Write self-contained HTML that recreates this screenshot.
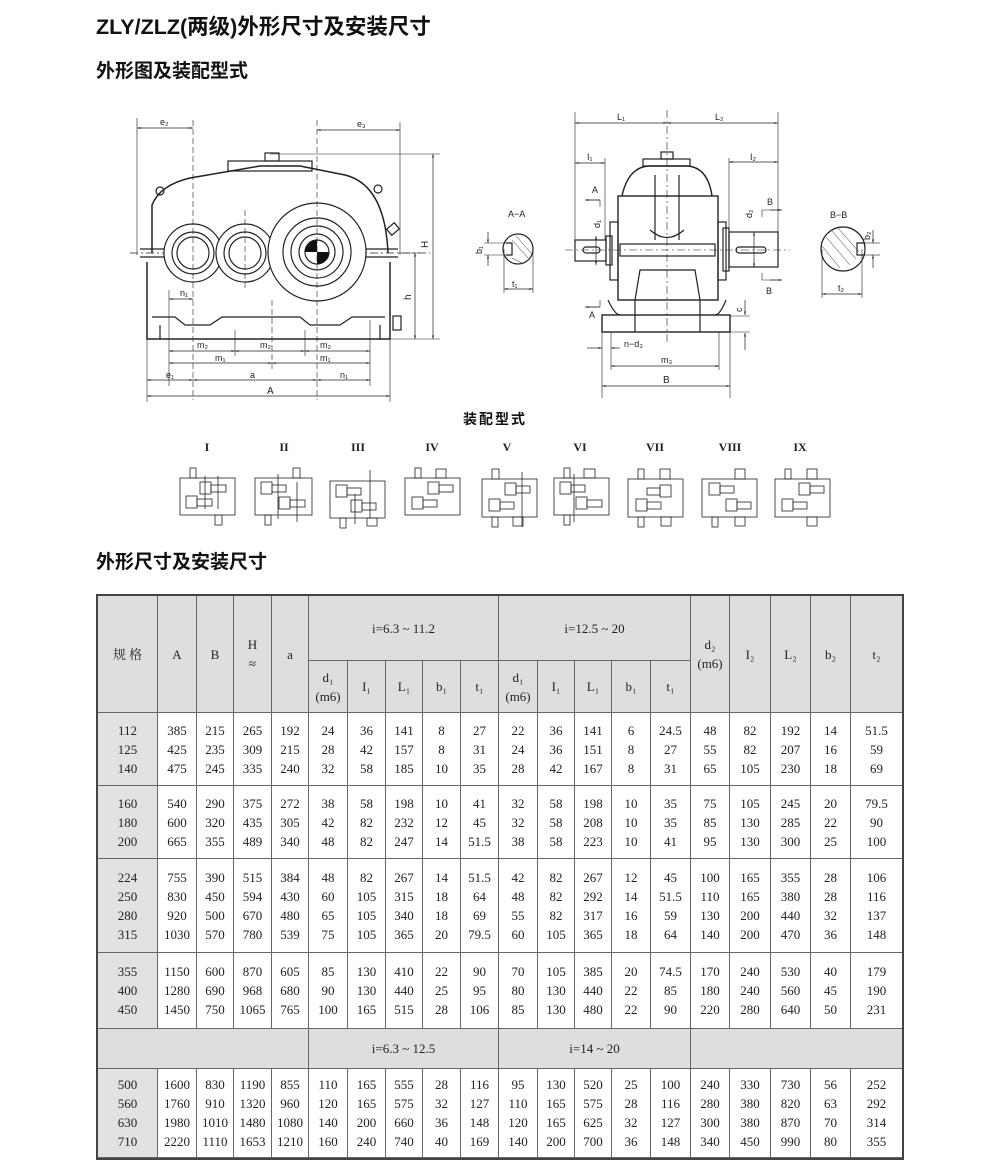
<!DOCTYPE html>
<html><head><meta charset="utf-8">
<style>
body{margin:0;background:#fff;}
#pg{position:relative;width:1000px;height:1175px;overflow:hidden;background:#fff;font-family:"Liberation Sans","Noto Sans CJK SC",sans-serif;}
.t{position:absolute;font-weight:bold;color:#111;white-space:nowrap;}
table{position:absolute;left:97px;top:595px;border-collapse:collapse;table-layout:fixed;font-family:"Liberation Serif","Noto Serif CJK SC",serif;font-size:13px;color:#222;}
td{border:1px solid #666;text-align:center;vertical-align:middle;padding:0;line-height:19px;}
.h{background:#dedede;}
.g{background:#e2e2e2;}
</style></head><body><div id="pg">
<div class="t" style="left:96px;top:10px;font-size:21.5px;">ZLY/ZLZ(两级)外形尺寸及安装尺寸</div>
<div class="t" style="left:96px;top:56px;font-size:19px;">外形图及装配型式</div>
<div class="t" style="left:96px;top:547px;font-size:19px;">外形尺寸及安装尺寸</div>
<div class="t" style="left:463px;top:409px;font-size:14px;letter-spacing:2px;">装配型式</div>

<svg width="1000" height="540" style="position:absolute;left:0;top:0" font-family="Liberation Sans,sans-serif" font-size="9" fill="none" stroke="#222" stroke-width="1.2">
<defs><marker id="ar" viewBox="0 0 10 10" refX="10" refY="5" markerWidth="6" markerHeight="5" orient="auto-start-reverse"><path d="M0,2L10,5L0,8z" fill="#333" stroke="none"/></marker></defs>
<!-- front view -->
<g>
<path d="M152,253 L152,205 Q160,185 190,178 L260,166 L300,166 L345,175 Q385,185 388,253" stroke-width="1.5"/>
<rect x="228" y="161" width="84" height="10"/>
<rect x="265" y="153" width="14" height="8"/>
<line x1="140" y1="249" x2="398" y2="249"/><line x1="140" y1="257" x2="398" y2="257"/>
<line x1="130" y1="253" x2="430" y2="253" stroke-dasharray="8,3,2,3" stroke-width="0.7"/>
<path d="M147,262 L147,339 L390,339 L390,262" stroke-width="1.5"/>
<path d="M152,317 L175,317 L185,325 L210,325 L222,317 L300,317 L310,325 L340,325 L352,317 L385,317"/>
<path d="M160,325 L160,339 M380,325 L380,339"/>
<circle cx="193" cy="253" r="29" fill="#fff"/><circle cx="193" cy="253" r="21"/><circle cx="193" cy="253" r="16"/>
<circle cx="245" cy="253" r="29" fill="#fff"/><circle cx="245" cy="253" r="21"/><circle cx="245" cy="253" r="16"/>
<circle cx="317" cy="252" r="49" fill="#fff"/><circle cx="317" cy="252" r="34"/><circle cx="317" cy="252" r="26"/><circle cx="317" cy="252" r="18"/>
<circle cx="317" cy="252" r="12" fill="#fff"/>
<path d="M317,252 L317,240 A12,12 0 0 0 305,252 Z M317,252 L317,264 A12,12 0 0 0 329,252 Z" fill="#111" stroke="none"/>
<circle cx="160" cy="191" r="4"/><circle cx="378" cy="189" r="4"/>
<rect x="388" y="225" width="10" height="8" transform="rotate(-40 393 229)"/>
<rect x="393" y="316" width="8" height="14"/>
<g stroke-dasharray="6,3" stroke-width="0.6"><line x1="193" y1="120" x2="193" y2="400"/><line x1="245" y1="210" x2="245" y2="290"/><line x1="317" y1="120" x2="317" y2="400"/><line x1="272" y1="300" x2="272" y2="370"/></g>
<g stroke-width="0.6">
<line x1="137" y1="118" x2="137" y2="255"/><line x1="400" y1="122" x2="400" y2="255"/>
<line x1="147" y1="339" x2="147" y2="402"/><line x1="390" y1="339" x2="390" y2="402"/>
<line x1="169" y1="290" x2="169" y2="386"/><line x1="370" y1="320" x2="370" y2="386"/>
<line x1="235" y1="330" x2="235" y2="356"/><line x1="305" y1="330" x2="305" y2="356"/>
<line x1="270" y1="154" x2="440" y2="154"/><line x1="390" y1="339" x2="440" y2="339"/><line x1="398" y1="253" x2="420" y2="253"/>
</g>
<g stroke-width="0.7" marker-start="url(#ar)" marker-end="url(#ar)">
<line x1="137" y1="128" x2="193" y2="128"/><line x1="317" y1="130" x2="400" y2="130"/>
<line x1="433" y1="154" x2="433" y2="339"/><line x1="415" y1="253" x2="415" y2="339"/>
<line x1="169" y1="299" x2="193" y2="299"/>
<line x1="169" y1="351" x2="235" y2="351"/><line x1="235" y1="351" x2="305" y2="351"/><line x1="305" y1="351" x2="370" y2="351"/>
<line x1="169" y1="363" x2="272" y2="363"/><line x1="272" y1="363" x2="370" y2="363"/>
<line x1="147" y1="380" x2="193" y2="380"/><line x1="193" y1="380" x2="317" y2="380"/><line x1="317" y1="380" x2="370" y2="380"/>
<line x1="147" y1="396" x2="390" y2="396"/>
</g>
<g fill="#222" stroke="none">
<text x="160" y="125">e₂</text><text x="357" y="127">e₃</text>
<text x="180" y="296">n₁</text>
<text x="197" y="348">m₂</text><text x="260" y="348">m₂</text><text x="320" y="348">m₂</text>
<text x="215" y="361">m₁</text><text x="320" y="361">m₁</text>
<text x="166" y="378">e₁</text><text x="250" y="378">a</text><text x="340" y="378">n₁</text>
<text x="267" y="394" font-size="10">A</text>
<text x="428" y="248" transform="rotate(-90 428 248)" font-size="10">H</text>
<text x="411" y="300" transform="rotate(-90 411 300)" font-size="10">h</text>
</g>
</g>
<!-- side view -->
<g>
<line x1="667" y1="110" x2="667" y2="345" stroke-dasharray="8,3,2,3" stroke-width="0.6"/>
<line x1="565" y1="250" x2="790" y2="250" stroke-dasharray="8,3,2,3" stroke-width="0.6"/>
<rect x="643" y="159" width="47" height="7"/><rect x="661" y="152" width="12" height="7"/>
<path d="M622,196 Q628,168 648,166 L688,166 Q708,168 712,196" stroke-width="1.4"/>
<rect x="618" y="196" width="100" height="104" stroke-width="1.4"/>
<rect x="610" y="222" width="8" height="58"/><rect x="718" y="222" width="8" height="58"/>
<path d="M655,175 L655,240 M679,175 L679,240 M650,230 Q667,245 684,230"/>
<rect x="620" y="244" width="95" height="12"/>
<rect x="575" y="240" width="31" height="21"/><rect x="606" y="236" width="6" height="29"/>
<rect x="583" y="247" width="17" height="6" rx="3"/>
<rect x="729" y="232" width="49" height="35"/><rect x="723" y="228" width="6" height="43"/>
<rect x="736" y="247" width="30" height="6" rx="3"/>
<path d="M635,300 L640,270 L695,270 L700,300 L700,332 M635,300 L635,332"/>
<path d="M608,300 Q615,315 620,315 M726,300 Q720,315 715,315"/>
<rect x="602" y="315" width="128" height="17" stroke-width="1.4"/>
<g stroke-width="0.6">
<line x1="575" y1="112" x2="575" y2="240"/><line x1="778" y1="112" x2="778" y2="232"/><line x1="729" y1="158" x2="729" y2="232"/><line x1="605" y1="158" x2="605" y2="240"/>
<line x1="602" y1="332" x2="602" y2="398"/><line x1="730" y1="332" x2="730" y2="398"/>
<line x1="611" y1="332" x2="611" y2="370"/><line x1="719" y1="332" x2="719" y2="370"/>
<line x1="730" y1="316" x2="750" y2="316"/><line x1="730" y1="332" x2="750" y2="332"/>
<path d="M586,200 L600,200 L600,207 M586,307 L600,307 L600,300 M762,217 L762,210 L780,210 M762,273 L762,280 L780,280"/>
</g>
<g stroke-width="0.7" marker-start="url(#ar)" marker-end="url(#ar)">
<line x1="575" y1="123" x2="667" y2="123"/><line x1="667" y1="123" x2="778" y2="123"/>
<line x1="575" y1="163" x2="605" y2="163"/><line x1="729" y1="162" x2="778" y2="162"/>
<line x1="611" y1="366" x2="719" y2="366"/><line x1="602" y1="386" x2="730" y2="386"/>
<line x1="596" y1="236" x2="596" y2="265"/><line x1="754" y1="232" x2="754" y2="267"/>
</g>
<g stroke-width="0.7" marker-end="url(#ar)"><line x1="600" y1="200" x2="585" y2="200"/><line x1="600" y1="307" x2="585" y2="307"/><line x1="770" y1="210" x2="782" y2="210"/><line x1="770" y1="280" x2="782" y2="280"/><line x1="745" y1="300" x2="745" y2="315"/><line x1="745" y1="350" x2="745" y2="333"/><line x1="587" y1="348" x2="602" y2="348"/><line x1="620" y1="348" x2="611" y2="348"/></g>
<g fill="#222" stroke="none">
<text x="617" y="120">L₁</text><text x="715" y="120">L₂</text><text x="587" y="160">I₁</text><text x="750" y="160">I₂</text>
<text x="592" y="193">A</text><text x="589" y="318">A</text><text x="767" y="205">B</text><text x="766" y="294">B</text>
<text x="600" y="228" transform="rotate(-90 600 228)">d₁</text><text x="752" y="218" transform="rotate(-90 752 218)">d₂</text>
<text x="742" y="312" transform="rotate(-90 742 312)">c</text>
<text x="624" y="347">n−d₃</text><text x="661" y="363">m₃</text><text x="663" y="383" font-size="10">B</text>
</g>
<!-- A-A -->
<circle cx="518" cy="249" r="15"/>
<path d="M506,243 L512,243 L512,255 L506,255"/>
<g stroke-width="0.5"><line x1="512" y1="240" x2="528" y2="258"/><line x1="516" y1="236" x2="532" y2="254"/><line x1="512" y1="258" x2="522" y2="263"/></g>
<g stroke-width="0.6"><line x1="504" y1="249" x2="504" y2="293"/><line x1="533" y1="249" x2="533" y2="293"/><line x1="484" y1="243" x2="506" y2="243"/><line x1="484" y1="255" x2="506" y2="255"/></g>
<line x1="504" y1="289" x2="533" y2="289" stroke-width="0.7" marker-start="url(#ar)" marker-end="url(#ar)"/>
<line x1="488" y1="232" x2="488" y2="243" stroke-width="0.7" marker-end="url(#ar)"/><line x1="488" y1="266" x2="488" y2="255" stroke-width="0.7" marker-end="url(#ar)"/>
<text x="508" y="217" fill="#222" stroke="none">A−A</text><text x="512" y="287" fill="#222" stroke="none">t₁</text><text x="482" y="254" fill="#222" stroke="none" transform="rotate(-90 482 254)">b₁</text>
<!-- B-B -->
<circle cx="843" cy="249" r="22"/>
<path d="M865,243 L857,243 L857,255 L865,255"/>
<g stroke-width="0.5"><line x1="826" y1="237" x2="850" y2="265"/><line x1="832" y1="231" x2="856" y2="259"/><line x1="838" y1="228" x2="859" y2="252"/><line x1="822" y1="246" x2="840" y2="268"/></g>
<g stroke-width="0.6"><line x1="822" y1="249" x2="822" y2="298"/><line x1="862" y1="249" x2="862" y2="298"/><line x1="865" y1="243" x2="880" y2="243"/><line x1="865" y1="255" x2="880" y2="255"/></g>
<line x1="822" y1="294" x2="862" y2="294" stroke-width="0.7" marker-start="url(#ar)" marker-end="url(#ar)"/>
<line x1="873" y1="230" x2="873" y2="243" stroke-width="0.7" marker-end="url(#ar)"/><line x1="873" y1="268" x2="873" y2="255" stroke-width="0.7" marker-end="url(#ar)"/>
<text x="830" y="218" fill="#222" stroke="none">B−B</text><text x="838" y="291" fill="#222" stroke="none">t₂</text><text x="870" y="240" fill="#222" stroke="none" transform="rotate(-90 870 240)">b₂</text>
</g>
<!-- assembly types -->
<g font-family="Liberation Serif,serif" font-size="12" font-weight="bold" fill="#222" stroke="none" text-anchor="middle">
<text x="207" y="451">I</text><text x="284" y="451">II</text><text x="358" y="451">III</text><text x="432" y="451">IV</text><text x="507" y="451">V</text><text x="580" y="451">VI</text><text x="655" y="451">VII</text><text x="730" y="451">VIII</text><text x="800" y="451">IX</text>
</g>
<g stroke-width="0.8">
<g transform="translate(180,464)"><rect x="0" y="14" width="55" height="37"/><rect x="10" y="4" width="6" height="10"/><rect x="20" y="18" width="11" height="12"/><rect x="31" y="21" width="15" height="7"/><rect x="6" y="32" width="11" height="12"/><rect x="17" y="35" width="15" height="7"/><rect x="35" y="51" width="7" height="10"/><line x1="25" y1="12" x2="25" y2="45"/><line x1="38" y1="12" x2="38" y2="45"/></g>
<g transform="translate(255,464)"><rect x="0" y="14" width="57" height="37"/><rect x="38" y="4" width="7" height="10"/><rect x="6" y="18" width="11" height="12"/><rect x="17" y="21" width="14" height="7"/><rect x="24" y="33" width="11" height="12"/><rect x="35" y="36" width="15" height="7"/><rect x="10" y="51" width="6" height="10"/><line x1="23" y1="10" x2="23" y2="55"/><line x1="42" y1="18" x2="42" y2="58"/></g>
<g transform="translate(330,464)"><rect x="0" y="17" width="55" height="37"/><rect x="6" y="21" width="11" height="12"/><rect x="17" y="24" width="14" height="7"/><rect x="21" y="36" width="11" height="12"/><rect x="32" y="39" width="14" height="7"/><rect x="10" y="54" width="6" height="10"/><rect x="37" y="54" width="10" height="8"/><line x1="40" y1="6" x2="40" y2="54"/><line x1="25" y1="30" x2="25" y2="60"/></g>
<g transform="translate(405,464)"><rect x="0" y="14" width="55" height="37"/><rect x="10" y="4" width="6" height="10"/><rect x="31" y="5" width="10" height="9"/><rect x="23" y="18" width="11" height="12"/><rect x="34" y="21" width="14" height="7"/><rect x="7" y="33" width="11" height="12"/><rect x="18" y="36" width="14" height="7"/></g>
<g transform="translate(482,464)"><rect x="0" y="15" width="55" height="38"/><rect x="10" y="5" width="7" height="10"/><rect x="23" y="19" width="11" height="12"/><rect x="34" y="22" width="14" height="7"/><rect x="7" y="35" width="11" height="12"/><rect x="18" y="38" width="14" height="7"/><rect x="10" y="53" width="6" height="10"/><rect x="31" y="53" width="10" height="9"/><line x1="40" y1="8" x2="40" y2="63"/></g>
<g transform="translate(554,464)"><rect x="0" y="14" width="55" height="37"/><rect x="10" y="4" width="6" height="10"/><rect x="30" y="5" width="11" height="9"/><rect x="6" y="18" width="11" height="12"/><rect x="17" y="21" width="14" height="7"/><rect x="22" y="33" width="11" height="12"/><rect x="33" y="36" width="15" height="7"/><rect x="10" y="51" width="6" height="10"/><line x1="20" y1="10" x2="20" y2="58"/></g>
<g transform="translate(628,464)"><rect x="0" y="15" width="55" height="38"/><rect x="10" y="5" width="6" height="10"/><rect x="32" y="5" width="10" height="10"/><rect x="32" y="21" width="11" height="12"/><rect x="19" y="24" width="13" height="7"/><rect x="8" y="35" width="11" height="12"/><rect x="19" y="38" width="14" height="7"/><rect x="10" y="53" width="6" height="10"/><rect x="33" y="53" width="10" height="9"/></g>
<g transform="translate(702,464)"><rect x="0" y="15" width="55" height="38"/><rect x="33" y="5" width="10" height="10"/><rect x="7" y="19" width="11" height="12"/><rect x="18" y="22" width="14" height="7"/><rect x="24" y="35" width="11" height="12"/><rect x="35" y="38" width="14" height="7"/><rect x="10" y="53" width="6" height="10"/><rect x="33" y="53" width="10" height="9"/></g>
<g transform="translate(775,464)"><rect x="0" y="15" width="55" height="38"/><rect x="10" y="5" width="6" height="10"/><rect x="32" y="5" width="10" height="10"/><rect x="24" y="19" width="11" height="12"/><rect x="35" y="22" width="14" height="7"/><rect x="7" y="35" width="11" height="12"/><rect x="18" y="38" width="14" height="7"/><rect x="32" y="53" width="10" height="9"/></g>
</g>
</svg>

<table>
<colgroup><col style="width:60px"><col style="width:39px"><col style="width:37px"><col style="width:38px"><col style="width:37px"><col style="width:39px"><col style="width:38px"><col style="width:37px"><col style="width:38px"><col style="width:38px"><col style="width:39px"><col style="width:37px"><col style="width:37px"><col style="width:39px"><col style="width:40px"><col style="width:39px"><col style="width:41px"><col style="width:40px"><col style="width:40px"><col style="width:52px"></colgroup>
<tr class="h" style="height:65px"><td rowspan="2">规 格</td><td rowspan="2">A</td><td rowspan="2">B</td><td rowspan="2">H<br>≈</td><td rowspan="2">a</td><td colspan="5">i=6.3 ~ 11.2</td><td colspan="5">i=12.5 ~ 20</td><td rowspan="2">d₂<br>(m6)</td><td rowspan="2">I₂</td><td rowspan="2">L₂</td><td rowspan="2">b₂</td><td rowspan="2">t₂</td></tr>
<tr class="h" style="height:52px"><td>d₁<br>(m6)</td><td>I₁</td><td>L₁</td><td>b₁</td><td>t₁</td><td>d₁<br>(m6)</td><td>I₁</td><td>L₁</td><td>b₁</td><td>t₁</td></tr>
<tr style="height:73px"><td class="g">112<br>125<br>140</td><td>385<br>425<br>475</td><td>215<br>235<br>245</td><td>265<br>309<br>335</td><td>192<br>215<br>240</td><td>24<br>28<br>32</td><td>36<br>42<br>58</td><td>141<br>157<br>185</td><td>8<br>8<br>10</td><td>27<br>31<br>35</td><td>22<br>24<br>28</td><td>36<br>36<br>42</td><td>141<br>151<br>167</td><td>6<br>8<br>8</td><td>24.5<br>27<br>31</td><td>48<br>55<br>65</td><td>82<br>82<br>105</td><td>192<br>207<br>230</td><td>14<br>16<br>18</td><td>51.5<br>59<br>69</td></tr>
<tr style="height:73px"><td class="g">160<br>180<br>200</td><td>540<br>600<br>665</td><td>290<br>320<br>355</td><td>375<br>435<br>489</td><td>272<br>305<br>340</td><td>38<br>42<br>48</td><td>58<br>82<br>82</td><td>198<br>232<br>247</td><td>10<br>12<br>14</td><td>41<br>45<br>51.5</td><td>32<br>32<br>38</td><td>58<br>58<br>58</td><td>198<br>208<br>223</td><td>10<br>10<br>10</td><td>35<br>35<br>41</td><td>75<br>85<br>95</td><td>105<br>130<br>130</td><td>245<br>285<br>300</td><td>20<br>22<br>25</td><td>79.5<br>90<br>100</td></tr>
<tr style="height:94px"><td class="g">224<br>250<br>280<br>315</td><td>755<br>830<br>920<br>1030</td><td>390<br>450<br>500<br>570</td><td>515<br>594<br>670<br>780</td><td>384<br>430<br>480<br>539</td><td>48<br>60<br>65<br>75</td><td>82<br>105<br>105<br>105</td><td>267<br>315<br>340<br>365</td><td>14<br>18<br>18<br>20</td><td>51.5<br>64<br>69<br>79.5</td><td>42<br>48<br>55<br>60</td><td>82<br>82<br>82<br>105</td><td>267<br>292<br>317<br>365</td><td>12<br>14<br>16<br>18</td><td>45<br>51.5<br>59<br>64</td><td>100<br>110<br>130<br>140</td><td>165<br>165<br>200<br>200</td><td>355<br>380<br>440<br>470</td><td>28<br>28<br>32<br>36</td><td>106<br>116<br>137<br>148</td></tr>
<tr style="height:76px"><td class="g">355<br>400<br>450</td><td>1150<br>1280<br>1450</td><td>600<br>690<br>750</td><td>870<br>968<br>1065</td><td>605<br>680<br>765</td><td>85<br>90<br>100</td><td>130<br>130<br>165</td><td>410<br>440<br>515</td><td>22<br>25<br>28</td><td>90<br>95<br>106</td><td>70<br>80<br>85</td><td>105<br>130<br>130</td><td>385<br>440<br>480</td><td>20<br>22<br>22</td><td>74.5<br>85<br>90</td><td>170<br>180<br>220</td><td>240<br>240<br>280</td><td>530<br>560<br>640</td><td>40<br>45<br>50</td><td>179<br>190<br>231</td></tr>
<tr class="h" style="height:40px"><td colspan="5"></td><td colspan="5">i=6.3 ~ 12.5</td><td colspan="5">i=14 ~ 20</td><td colspan="5"></td></tr>
<tr style="height:89px"><td class="g">500<br>560<br>630<br>710</td><td>1600<br>1760<br>1980<br>2220</td><td>830<br>910<br>1010<br>1110</td><td>1190<br>1320<br>1480<br>1653</td><td>855<br>960<br>1080<br>1210</td><td>110<br>120<br>140<br>160</td><td>165<br>165<br>200<br>240</td><td>555<br>575<br>660<br>740</td><td>28<br>32<br>36<br>40</td><td>116<br>127<br>148<br>169</td><td>95<br>110<br>120<br>140</td><td>130<br>165<br>165<br>200</td><td>520<br>575<br>625<br>700</td><td>25<br>28<br>32<br>36</td><td>100<br>116<br>127<br>148</td><td>240<br>280<br>300<br>340</td><td>330<br>380<br>380<br>450</td><td>730<br>820<br>870<br>990</td><td>56<br>63<br>70<br>80</td><td>252<br>292<br>314<br>355</td></tr>
</table>
<div style="position:absolute;left:96px;top:594px;width:804px;height:562px;border:2px solid #444;pointer-events:none;"></div>
</div></body></html>
